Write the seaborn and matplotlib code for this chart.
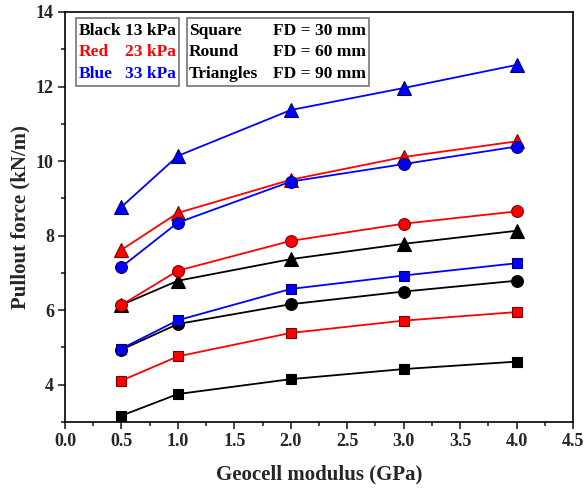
import matplotlib
matplotlib.use("Agg")
import matplotlib.pyplot as plt
from matplotlib.patches import Rectangle
from matplotlib.ticker import MultipleLocator
import seaborn as sns
import pandas as pd

# ---- data ----
modulus = [0.5, 1.0, 2.0, 3.0, 4.0]
black_square = [3.17, 3.75, 4.15, 4.42, 4.62]
black_circle = [4.94, 5.63, 6.16, 6.50, 6.79]
black_triangle = [6.14, 6.79, 7.37, 7.78, 8.13]
red_square = [4.11, 4.76, 5.39, 5.72, 5.95]
red_circle = [6.14, 7.06, 7.86, 8.32, 8.65]
red_triangle = [7.62, 8.61, 9.50, 10.11, 10.53]
blue_square = [4.97, 5.73, 6.57, 6.93, 7.26]
blue_circle = [7.16, 8.35, 9.45, 9.92, 10.39]
blue_triangle = [8.77, 10.14, 11.37, 11.96, 12.58]

pressures = ["13 kPa", "23 kPa", "33 kPa"]
diameters = ["FD = 30 mm", "FD = 60 mm", "FD = 90 mm"]
x_ticks = [0.0, 0.5, 1.0, 1.5, 2.0, 2.5, 3.0, 3.5, 4.0, 4.5]
y_ticks = [4, 6, 8, 10, 12, 14]

series = [
    ("13 kPa", "FD = 30 mm", black_square),
    ("13 kPa", "FD = 60 mm", black_circle),
    ("13 kPa", "FD = 90 mm", black_triangle),
    ("23 kPa", "FD = 30 mm", red_square),
    ("23 kPa", "FD = 60 mm", red_circle),
    ("23 kPa", "FD = 90 mm", red_triangle),
    ("33 kPa", "FD = 30 mm", blue_square),
    ("33 kPa", "FD = 60 mm", blue_circle),
    ("33 kPa", "FD = 90 mm", blue_triangle),
]
rows = []
for p, d, vals in series:
    for xv, yv in zip(modulus, vals):
        rows.append({"pressure": p, "fd": d, "modulus": xv, "force": yv})
df = pd.DataFrame(rows)

colors = {"13 kPa": "#000000", "23 kPa": "#ff0000", "33 kPa": "#0000ff"}
edges = {"13 kPa": "#000000", "23 kPa": "#7a0000", "33 kPa": "#00006a"}
markers = {"FD = 30 mm": "s", "FD = 60 mm": "o", "FD = 90 mm": "^"}
msizes = {"FD = 30 mm": 7.5, "FD = 60 mm": 8.5, "FD = 90 mm": 9.5}

sns.set_style("ticks")
plt.rcParams["font.family"] = ["Liberation Serif", "DejaVu Serif"]
plt.rcParams["font.weight"] = "bold"

fig = plt.figure(figsize=(5.84, 4.90), dpi=100)
ax = fig.add_axes([65 / 584, 1 - 422 / 490, (573 - 65) / 584, (422 - 12) / 490])

z = 2
for p in pressures:
    for d in diameters:
        sub = df[(df.pressure == p) & (df.fd == d)]
        sns.lineplot(data=sub, x="modulus", y="force", ax=ax, color=colors[p],
                     marker=markers[d], markersize=msizes[d],
                     markeredgecolor=edges[p], markeredgewidth=0.8,
                     linewidth=1.3, zorder=z, legend=False)
        z += 1

ax.set_xlim(0, 4.5)
ax.set_ylim(3.0, 14)
ax.set_xticks(x_ticks)
ax.set_xticklabels([f"{v:.1f}" for v in x_ticks])
ax.set_yticks(y_ticks)
ax.xaxis.set_minor_locator(MultipleLocator(0.25))
ax.yaxis.set_minor_locator(MultipleLocator(1))
ax.tick_params(which="major", direction="out", length=5, width=1.2,
               labelsize=13, top=False, right=False, pad=3)
ax.tick_params(which="minor", direction="out", length=3, width=1.2,
               top=False, right=False)
for lab in ax.get_xticklabels() + ax.get_yticklabels():
    lab.set_fontweight("bold")
for s in ax.spines.values():
    s.set_linewidth(1.2)
    s.set_color("black")

ax.set_xlabel("Geocell modulus (GPa)", fontsize=15, fontweight="bold", labelpad=10)
ax.set_ylabel("Pullout force (kN/m)", fontsize=15, fontweight="bold", labelpad=4)

# ---- custom legend boxes ----
def px(x, y):
    return x / 584, 1 - y / 490

for (x0, x1) in [(76, 179), (187, 369)]:
    fx, fy = px(x0, 86)
    w = (x1 - x0) / 584
    h = (86 - 18) / 490
    fig.patches.append(Rectangle((fx, fy), w, h, transform=fig.transFigure,
                                 fill=True, facecolor="white",
                                 edgecolor="#808080", linewidth=1.3, zorder=10))

row_y = [31, 52, 74]
names = ["Black", "Red", "Blue"]
shapes = ["Square", "Round", "Triangles"]
cols = ["#000000", "#ff0000", "#0000ff"]
for i in range(3):
    fig.text(*px(79, row_y[i]), names[i], color=cols[i], fontsize=12.5,
             fontweight="bold", va="center", ha="left", zorder=11)
    fig.text(*px(176, row_y[i]), pressures[i], color=cols[i], fontsize=12.5,
             fontweight="bold", va="center", ha="right", zorder=11)
    fig.text(*px(189, row_y[i]), shapes[i], color="black", fontsize=12.5,
             fontweight="bold", va="center", ha="left", zorder=11)
    fig.text(*px(366, row_y[i]), diameters[i], color="black", fontsize=12.5,
             fontweight="bold", va="center", ha="right", zorder=11)

fig.savefig("out.png", dpi=100)
